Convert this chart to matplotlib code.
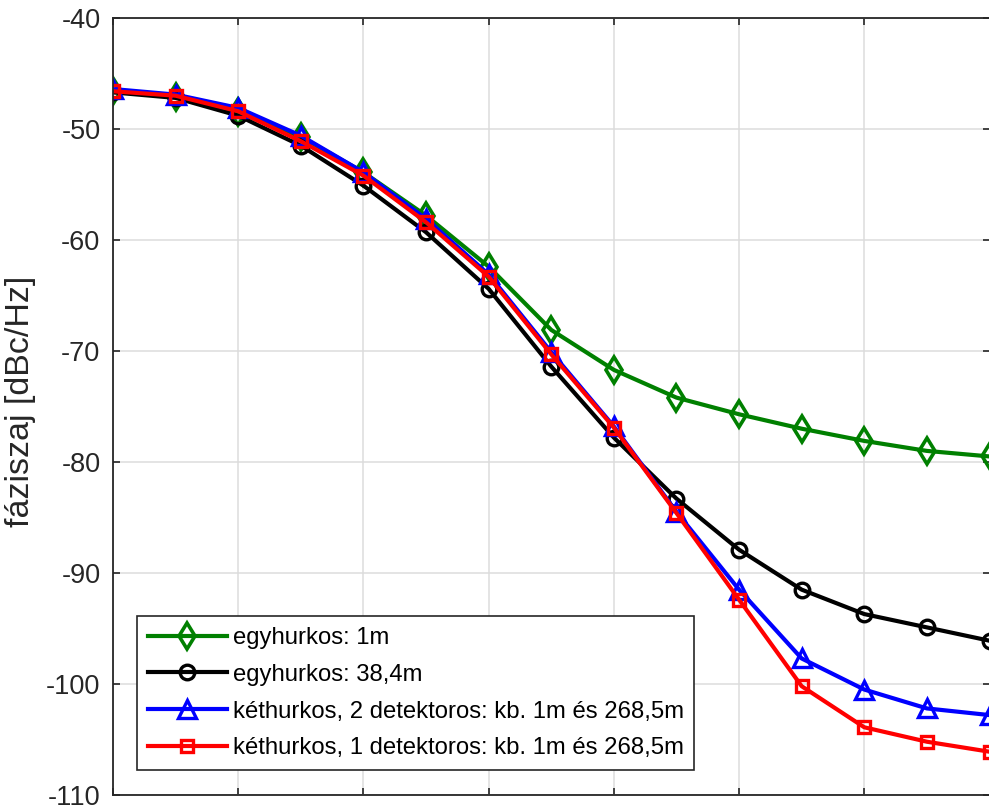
import matplotlib
matplotlib.use("Agg")
import matplotlib.pyplot as plt

# ---- data ----
x_idx = list(range(15))
egy_1m = [-46.6, -47.1, -48.5, -50.7, -53.9, -57.8, -62.4, -68.1, -71.7, -74.2,
          -75.7, -77.0, -78.1, -79.0, -79.5]
egy_38m = [-46.7, -47.2, -48.8, -51.5, -55.1, -59.3, -64.4, -71.4, -77.8, -83.3,
           -87.9, -91.5, -93.7, -94.9, -96.1]
ket_2det = [-46.4, -46.9, -48.1, -50.6, -53.9, -58.1, -63.1, -70.1, -76.8, -84.5,
            -91.5, -97.7, -100.5, -102.2, -102.8]
ket_1det = [-46.6, -47.0, -48.4, -51.1, -54.2, -58.4, -63.3, -70.3, -76.9, -84.6,
            -92.4, -100.2, -103.9, -105.2, -106.1]

labels = ["egyhurkos: 1m",
          "egyhurkos: 38,4m",
          "kéthurkos, 2 detektoros: kb. 1m és 268,5m",
          "kéthurkos, 1 detektoros: kb. 1m és 268,5m"]
yticks = [-110, -100, -90, -80, -70, -60, -50, -40]
ylabel = "fáziszaj [dBc/Hz]"

plt.rcParams['font.family'] = ['Liberation Sans', 'DejaVu Sans']

fig = plt.figure(figsize=(9.89, 8.06), dpi=100)
ax = fig.add_axes([113/989, 1 - 795/806, 876.5/989, 777/806])

ax.plot(x_idx, egy_1m, color='#008000', lw=3, marker='d', ms=13.5,
        mfc='none', mew=2.6, label=labels[0])
ax.plot(x_idx, egy_38m, color='black', lw=3, marker='o', ms=10.5,
        mfc='none', mew=2.4, label=labels[1])
ax.plot(x_idx, ket_2det, color='blue', lw=3, marker='^', ms=13,
        mfc='none', mew=2.4, label=labels[2])
ax.plot(x_idx, ket_1det, color='red', lw=3, marker='s', ms=9,
        mfc='none', mew=2.4, label=labels[3])

ax.set_xlim(0, 14)
ax.set_ylim(-110, -40)
ax.set_xticks(list(range(0, 15, 2)))
ax.set_yticks(yticks)
ax.set_yticklabels([str(v) for v in yticks])
ax.tick_params(axis='both', direction='in', length=5, width=1.2,
               top=True, right=True, labelbottom=False, labelsize=19.5,
               pad=9, colors='#262626', labelcolor='#262626')
ax.grid(True, color='#dcdcdc', lw=1.1)
ax.set_axisbelow(True)
for s in ax.spines.values():
    s.set_color('#262626')
    s.set_linewidth(1.3)

ax.set_ylabel(ylabel, fontsize=24.5, color='#262626')
ax.yaxis.set_label_coords(-0.088, 0.506)

leg = ax.legend(loc='lower left', bbox_to_anchor=(0.0274, 0.032),
                borderaxespad=0, fontsize=17.2, handlelength=3.3,
                handletextpad=0.25, labelspacing=0.62, borderpad=0.45,
                fancybox=False, framealpha=1, edgecolor='#262626')
leg.get_frame().set_linewidth(1.2)

fig.savefig("out.png", dpi=100)
